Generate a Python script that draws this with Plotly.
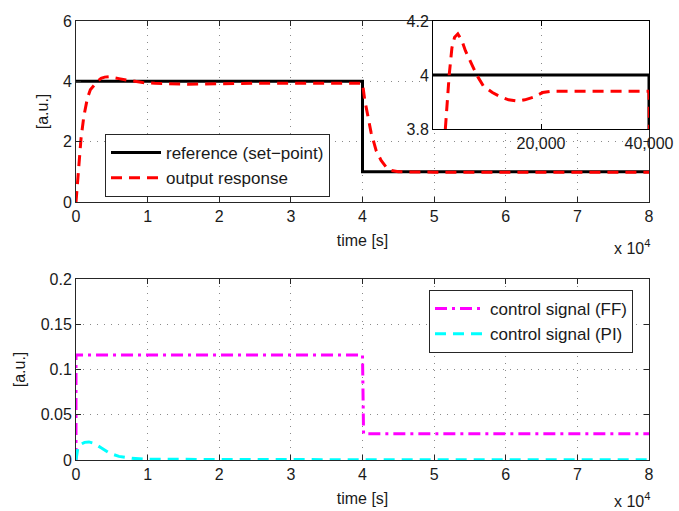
import plotly.graph_objects as go

# ---------------- data ----------------
t_ref = [0, 40000, 40000, 80000]
y_ref = [4, 4, 1, 1]

t_out = [0, 300, 700, 1100, 1600, 2000, 2500, 3000, 3500, 4000, 4600, 5300, 6000,
         7000, 8100, 9300, 11000, 12400, 14000, 15700, 17000, 18600, 20300, 22000,
         25000, 30000, 35000, 40000, 40300, 40700, 41200, 41900, 42600, 43300,
         44000, 45000, 46500, 50000, 60000, 70000, 80000]
y_out = [0, 1.05, 2.1, 2.85, 3.45, 3.72, 3.86, 4.0, 4.1, 4.14, 4.152, 4.13, 4.09,
         4.045, 4.0, 3.96, 3.935, 3.92, 3.908, 3.903, 3.908, 3.918, 3.935, 3.94,
         3.94, 3.94, 3.94, 3.94, 3.4, 2.85, 2.3, 1.71, 1.38, 1.16,
         1.05, 1.0, 0.99, 0.99, 0.99, 0.99, 0.99]

t_ff = [0, 0, 40000, 40150, 80000]
u_ff = [0, 0.116, 0.116, 0.029, 0.029]

t_pi = [0, 250, 700, 1200, 1800, 2500, 3500, 4700, 6000, 7800, 10000, 20000,
        40000, 41000, 80000]
u_pi = [0, 0.013, 0.0175, 0.0195, 0.02, 0.0185, 0.0135, 0.0074, 0.004, 0.0018,
        0.0008, 0.0005, 0.0005, 0.0003, 0.0002]

main_xticks = [0, 10000, 20000, 30000, 40000, 50000, 60000, 70000, 80000]
main_xlabels = ["0", "1", "2", "3", "4", "5", "6", "7", "8"]
top_yticks = [0, 2, 4, 6]
bot_yticks = [0, 0.05, 0.1, 0.15, 0.2]
inset_xticks = [20000, 40000]
inset_yticks = [3.8, 4.0, 4.2]

# ---------------- figure ----------------
W, H = 679, 511
FONT = "Liberation Sans, Arial, Helvetica, sans-serif"
AX = "#262626"

def px(x):
    return x / W

def py(y):
    return 1 - y / H

fig = go.Figure()

# top panel
fig.add_trace(go.Scatter(x=t_ref, y=y_ref, mode="lines", name="reference (set\u2212point)",
                         line=dict(color="black", width=3), xaxis="x", yaxis="y",
                         legend="legend"))
fig.add_trace(go.Scatter(x=t_out, y=y_out, mode="lines", name="output response",
                         line=dict(color="#ff0000", width=3, dash="11px,7px"),
                         xaxis="x", yaxis="y", legend="legend"))

# bottom panel
fig.add_trace(go.Scatter(x=t_ff, y=u_ff, mode="lines", name="control signal (FF)",
                         line=dict(color="#ff00ff", width=3, dash="12px,5px,3px,5px"),
                         xaxis="x2", yaxis="y2", legend="legend2"))
fig.add_trace(go.Scatter(x=t_pi, y=u_pi, mode="lines", name="control signal (PI)",
                         line=dict(color="#00ffff", width=3, dash="11px,7px"),
                         xaxis="x2", yaxis="y2", legend="legend2"))

# inset
fig.add_trace(go.Scatter(x=t_ref, y=y_ref, mode="lines", showlegend=False,
                         line=dict(color="black", width=3), xaxis="x3", yaxis="y3"))
fig.add_trace(go.Scatter(x=t_out, y=y_out, mode="lines", showlegend=False,
                         line=dict(color="#ff0000", width=3, dash="11px,7px"),
                         xaxis="x3", yaxis="y3"))

common = dict(showline=True, linecolor=AX, linewidth=1, mirror="ticks",
              ticks="inside", ticklen=5, tickcolor=AX, zeroline=False,
              showgrid=True, gridcolor="#8a8a8a", griddash="1px,6px", gridwidth=1,
              tickfont=dict(size=16, color="#1a1a1a", family=FONT),
              automargin=False)

LEGFONT = dict(size=17, family=FONT, color="#1a1a1a")

fig.update_layout(
    width=W, height=H,
    margin=dict(l=0, r=0, t=0, b=0),
    paper_bgcolor="white", plot_bgcolor="white",
    font=dict(family=FONT, size=16, color="#1a1a1a"),
    xaxis=dict(domain=[px(76), px(649)], anchor="y", range=[0, 80000],
               tickvals=main_xticks, ticktext=main_xlabels,
               title=dict(text="time [s]", standoff=10, font=dict(size=16)), **common),
    yaxis=dict(domain=[py(202), py(21)], anchor="x", range=[0, 6],
               tickvals=top_yticks,
               title=dict(text="[a.u.]", standoff=10, font=dict(size=16)), **common),
    xaxis2=dict(domain=[px(76), px(649)], anchor="y2", range=[0, 80000],
                tickvals=main_xticks, ticktext=main_xlabels,
                title=dict(text="time [s]", standoff=10, font=dict(size=16)), **common),
    yaxis2=dict(domain=[py(460), py(279)], anchor="x2", range=[0, 0.2],
                tickvals=bot_yticks,
                title=dict(text="[a.u.]", standoff=11, font=dict(size=16)), **common),
    xaxis3=dict(domain=[px(433), px(649)], anchor="y3", range=[0, 40000],
                tickvals=inset_xticks, tickformat=",d",
                **{**common, "linecolor": "black", "tickcolor": "black"}),
    yaxis3=dict(domain=[py(129), py(21)], anchor="x3", range=[3.8, 4.2],
                tickvals=inset_yticks,
                **{**common, "linecolor": "black", "tickcolor": "black"}),
    legend=dict(x=px(105), y=py(134), xanchor="left", yanchor="top",
                bgcolor="white", bordercolor=AX, borderwidth=1,
                font=LEGFONT, itemwidth=50, tracegroupgap=0),
    legend2=dict(x=px(633), y=py(290), xanchor="right", yanchor="top",
                 bgcolor="white", bordercolor=AX, borderwidth=1,
                 font=LEGFONT, itemwidth=50, tracegroupgap=0),
    annotations=[
        dict(text="x 10<sup>4</sup>", x=px(652), y=py(247), xref="paper", yref="paper",
             xanchor="right", yanchor="middle", showarrow=False,
             font=dict(size=16, family=FONT, color="#1a1a1a")),
        dict(text="x 10<sup>4</sup>", x=px(652), y=py(500), xref="paper", yref="paper",
             xanchor="right", yanchor="middle", showarrow=False,
             font=dict(size=16, family=FONT, color="#1a1a1a")),
    ],
)

fig.write_html("out.html", config={"displayModeBar": False},
               post_script="document.body.style.margin='0';document.body.style.padding='0';")
